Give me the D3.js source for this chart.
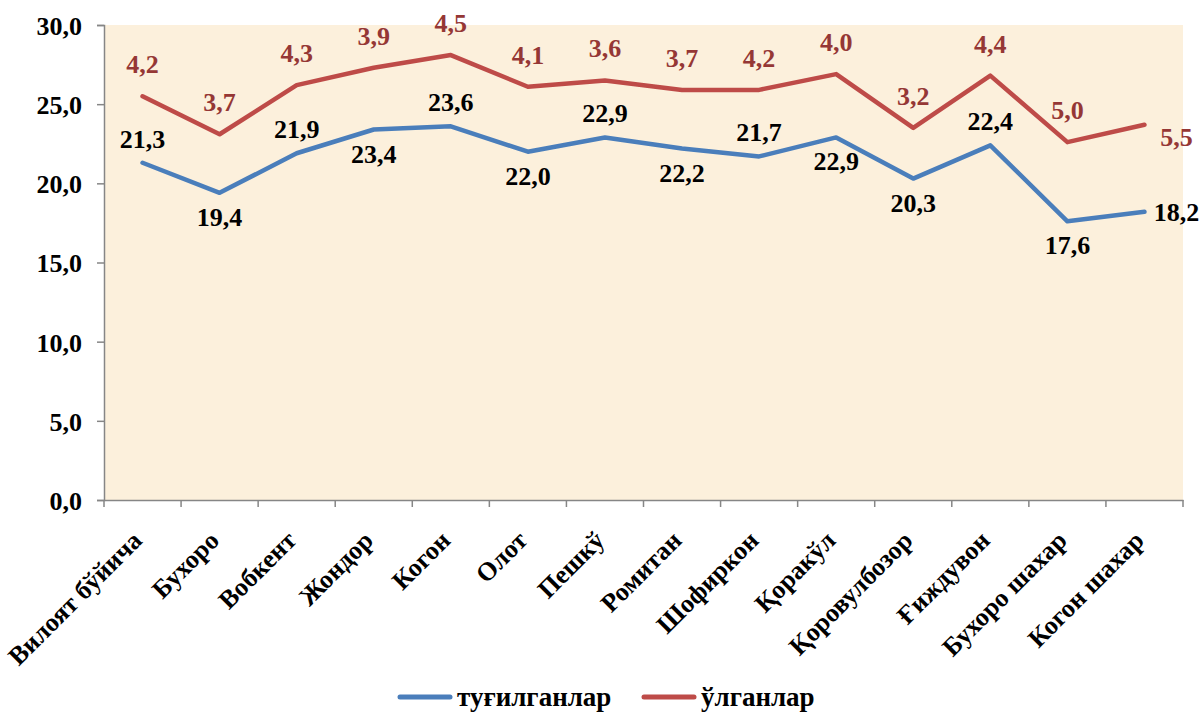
<!DOCTYPE html>
<html>
<head>
<meta charset="utf-8">
<script src="https://cdn.jsdelivr.net/npm/d3@7"></script>
<style>
  html, body { margin: 0; padding: 0; background: #ffffff; }
  svg { display: block; }
</style>
</head>
<body>
<svg id="chart" width="1204" height="713" font-family="Liberation Serif" font-weight="bold"></svg>
<script>
// ---- data ----
const categories = ["Вилоят бўйича", "Бухоро", "Вобкент", "Жондор", "Когон", "Олот", "Пешкў",
  "Ромитан", "Шофиркон", "Қоракўл", "Қоровулбозор", "Ғиждувон", "Бухоро шахар", "Когон шахар"];
const births = [21.3, 19.4, 21.9, 23.4, 23.6, 22.0, 22.9, 22.2, 21.7, 22.9, 20.3, 22.4, 17.6, 18.2];
const deaths = [4.2, 3.7, 4.3, 3.9, 4.5, 4.1, 3.6, 3.7, 4.2, 4.0, 3.2, 4.4, 5.0, 5.5];
const seriesNames = ["туғилганлар", "ўлганлар"];
const yTicks = [0, 5, 10, 15, 20, 25, 30];
// label placement codes (t = above, b = below, r = right)
const birthLabelPos = ["t","b","t","b","t","b","t","b","t","b","b","t","b","r"];
const deathLabelPos = ["t","t","t","t","t","t","t","t","t","t","t","t","t","r"];

// ---- layout ----
const FONT = "'Liberation Serif', 'Times New Roman', serif";
const svg = d3.select("#chart");
const m = { left: 104, right: 1183, top: 25, bottom: 500 };
const blue = "#4a7ebb", red = "#be4b48", redText = "#953735", axisColor = "#868686";
const fmt = v => d3.format(".1f")(v).replace(".", ",");

const x = d3.scaleBand().domain(categories).range([m.left, m.right]);
const y = d3.scaleLinear().domain([0, 30]).range([m.bottom, m.top]);
const cx = i => x(categories[i]) + x.bandwidth() / 2;

// stacked values for the second series
const stacked = births.map((b, i) => b + deaths[i]);

// plot background
svg.append("rect")
  .attr("x", m.left).attr("y", m.top)
  .attr("width", m.right - m.left).attr("height", m.bottom - m.top)
  .attr("fill", "#fcf0dc");

// Y axis
const yAxis = svg.append("g")
  .attr("transform", `translate(${m.left},0)`)
  .call(d3.axisLeft(y).tickValues(yTicks).tickSize(7).tickPadding(15).tickFormat(fmt));
yAxis.attr("font-family", FONT).attr("font-size", 26).attr("font-weight", "bold");
yAxis.selectAll("text").attr("fill", "#000").attr("dy", "0.36em");
yAxis.selectAll(".tick line").attr("stroke", axisColor).attr("stroke-width", 1.5);

// X axis
const xAxis = svg.append("g")
  .attr("transform", `translate(0,${m.bottom})`)
  .call(d3.axisBottom(x).tickSize(0).tickFormat(""));
const bounds = categories.map(c => x(c)).concat([m.right]);
svg.append("g").selectAll("line").data(bounds).join("line")
  .attr("x1", d => d).attr("x2", d => d)
  .attr("y1", m.bottom).attr("y2", m.bottom + 7)
  .attr("stroke", axisColor).attr("stroke-width", 1.5);
svg.selectAll(".domain").attr("stroke", axisColor).attr("stroke-width", 1.5);

// category labels
svg.append("g").selectAll("text").data(categories).join("text")
  .attr("transform", (d, i) => `translate(${cx(i) + 1},${m.bottom + 42}) rotate(-45)`)
  .attr("text-anchor", "end")
  .attr("font-family", FONT).attr("font-weight", "bold")
  .attr("font-size", 26)
  .attr("fill", "#000")
  .text(d => d);

// lines
const line = d3.line().x((d, i) => cx(i)).y(d => y(d));
svg.append("path").datum(births).attr("d", line)
  .attr("fill", "none").attr("stroke", blue).attr("stroke-width", 4.5)
  .attr("stroke-linejoin", "round").attr("stroke-linecap", "round");
svg.append("path").datum(stacked).attr("d", line)
  .attr("fill", "none").attr("stroke", red).attr("stroke-width", 4.5)
  .attr("stroke-linejoin", "round").attr("stroke-linecap", "round");

// data labels
svg.append("g").selectAll("text").data(births).join("text")
  .each(function (d, i) {
    const px = cx(i), py = y(d), p = birthLabelPos[i];
    let tx = px, ty;
    if (p === "t") ty = py - 15;
    else if (p === "b") ty = py + 33;
    else { tx = px + 32; ty = py + 9; }
    d3.select(this).attr("x", tx).attr("y", ty);
  })
  .attr("text-anchor", "middle")
  .attr("font-family", FONT).attr("font-weight", "bold")
  .attr("font-size", 26).attr("fill", "#000")
  .text(d => fmt(d));

svg.append("g").selectAll("text").data(deaths).join("text")
  .each(function (d, i) {
    const px = cx(i), py = y(stacked[i]), p = deathLabelPos[i];
    let tx = px, ty;
    if (p === "t") ty = py - 23;
    else if (p === "b") ty = py + 33;
    else { tx = px + 32; ty = py + 21; }
    d3.select(this).attr("x", tx).attr("y", ty);
  })
  .attr("text-anchor", "middle")
  .attr("font-family", FONT).attr("font-weight", "bold")
  .attr("font-size", 26).attr("fill", redText)
  .text(d => fmt(d));

// legend
const legend = svg.append("g");
const legendItems = [
  { name: seriesNames[0], color: blue, x: 398 },
  { name: seriesNames[1], color: red, x: 642 }
];
legendItems.forEach(it => {
  legend.append("line")
    .attr("x1", it.x + 2).attr("x2", it.x + 52)
    .attr("y1", 697).attr("y2", 697)
    .attr("stroke", it.color).attr("stroke-width", 5).attr("stroke-linecap", "round");
  legend.append("text")
    .attr("x", it.x + 59).attr("y", 706)
    .attr("font-family", FONT).attr("font-weight", "bold")
    .attr("font-size", 27).attr("fill", "#000")
    .text(it.name);
});
</script>
</body>
</html>
